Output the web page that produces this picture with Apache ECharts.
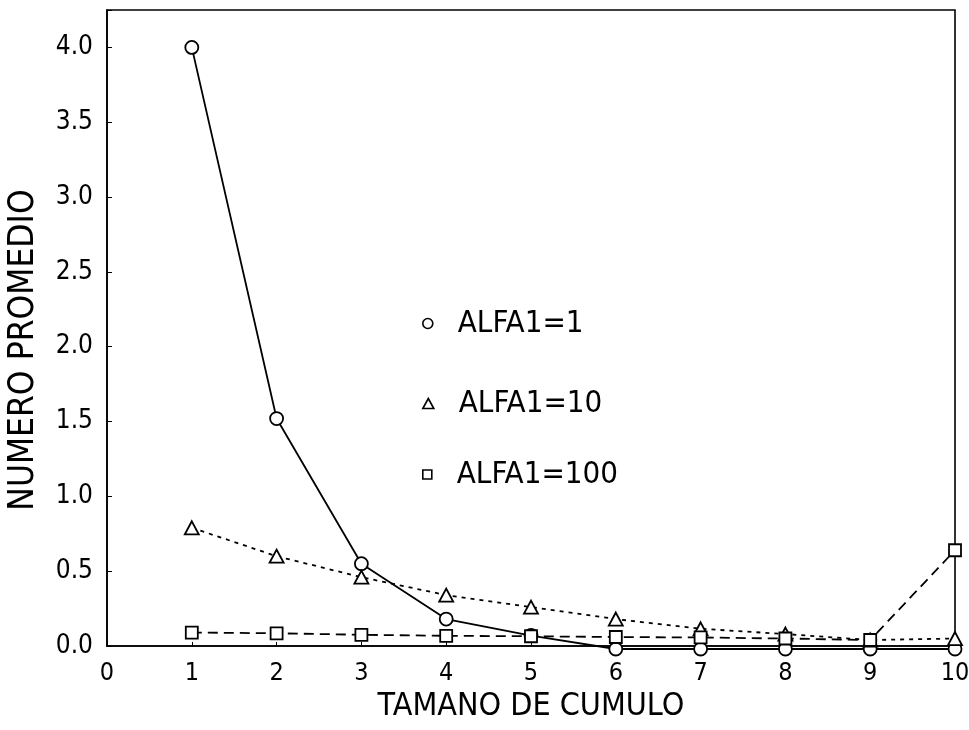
<!DOCTYPE html>
<html>
<head>
<meta charset="utf-8">
<script src="https://cdn.jsdelivr.net/npm/echarts@6/dist/echarts.min.js"></script>
<style>
  html, body { margin: 0; padding: 0; background: #fff; }
  #chart { width: 969px; height: 730px; }
</style>
</head>
<body>
<div id="chart"></div>
<script>
// Cluster sizes on the horizontal axis
const tamanos = [1, 2, 3, 4, 5, 6, 7, 8, 9, 10];

// Mean number of clusters for each ALFA1 value
const alfa1 = [4.0, 1.52, 0.55, 0.18, 0.07, -0.02, -0.02, -0.02, -0.02, -0.02];
const alfa10 = [0.79, 0.60, 0.46, 0.34, 0.26, 0.18, 0.115, 0.08, 0.04, 0.05];
const alfa100 = [0.09, 0.085, 0.075, 0.068, 0.065, 0.06, 0.057, 0.05, 0.04, 0.64];

const seriesNames = ['ALFA1=1', 'ALFA1=10', 'ALFA1=100'];
const yTicks = [0, 0.5, 1.0, 1.5, 2.0, 2.5, 3.0, 3.5, 4.0];

const FONT = '"Liberation Sans Narrow", "DejaVu Sans Condensed", "Liberation Sans", sans-serif';

function pairs(vals) {
  return tamanos.map((t, i) => [t, vals[i]]);
}

const chart = echarts.init(document.getElementById('chart'), null, { renderer: 'canvas' });

const markerStyle = { color: '#fff', borderColor: '#000', borderWidth: 1.8 };

function legendAt(name, icon, top, w, h) {
  return {
    data: [{ name: name, icon: icon }],
    left: 417, top: top,
    itemWidth: w, itemHeight: h,
    selectedMode: false,
    itemStyle: { color: '#fff', borderColor: '#000', borderWidth: 1.6 },
    textStyle: { fontFamily: FONT, fontSize: 31, color: '#000', padding: [0, 0, 0, 20] }
  };
}

chart.setOption({
  backgroundColor: '#fff',
  animation: false,
  grid: {
    left: 107, right: 14, top: 10, bottom: 84,
    containLabel: false, outerBoundsMode: 'none',
    show: true, borderColor: '#000', borderWidth: 1.6
  },
  xAxis: {
    type: 'value', min: 0, max: 10, interval: 1,
    name: 'TAMANO DE CUMULO', nameLocation: 'middle', nameGap: 44,
    nameTextStyle: { fontFamily: FONT, fontSize: 32, color: '#000' },
    axisLine: { show: true, onZero: false, lineStyle: { color: '#000', width: 1.6 } },
    axisTick: { show: true, inside: true, length: 4, lineStyle: { color: '#000' } },
    axisLabel: { fontFamily: FONT, fontSize: 25, color: '#000', margin: 15 },
    splitLine: { show: false }
  },
  yAxis: {
    type: 'value', min: 0, max: 4.25, interval: 0.5,
    name: 'NUMERO PROMEDIO', nameLocation: 'middle', nameGap: 66, nameRotate: 90,
    nameTextStyle: { fontFamily: FONT, fontSize: 35, color: '#000', padding: [0, 44, 0, 0] },
    axisLine: { show: true, lineStyle: { color: '#000', width: 1.6 } },
    axisTick: { show: true, inside: true, length: 5, lineStyle: { color: '#000' } },
    axisLabel: {
      fontFamily: FONT, fontSize: 26, color: '#000', margin: 14,
      formatter: v => yTicks.some(t => Math.abs(t - v) < 1e-9) ? v.toFixed(1) : ''
    },
    splitLine: { show: false }
  },
  legend: [
    legendAt(seriesNames[0], 'circle', 303, 10, 10),
    legendAt(seriesNames[1], 'triangle', 383, 11, 10),
    legendAt(seriesNames[2], 'rect', 454, 9, 9)
  ],
  series: [
    {
      name: seriesNames[0], type: 'line', data: pairs(alfa1), clip: false,
      symbol: 'circle', symbolSize: 13,
      itemStyle: markerStyle,
      lineStyle: { color: '#000', width: 1.8, type: 'solid' },
      z: 3
    },
    {
      name: seriesNames[1], type: 'line', data: pairs(alfa10), clip: false,
      symbol: 'triangle', symbolSize: [14, 13],
      itemStyle: markerStyle,
      lineStyle: { color: '#000', width: 1.8, type: [4, 5] },
      z: 4
    },
    {
      name: seriesNames[2], type: 'line', data: pairs(alfa100), clip: false,
      symbol: 'rect', symbolSize: 12,
      itemStyle: markerStyle,
      lineStyle: { color: '#000', width: 1.8, type: [10, 6] },
      z: 5
    }
  ]
});
</script>
</body>
</html>
